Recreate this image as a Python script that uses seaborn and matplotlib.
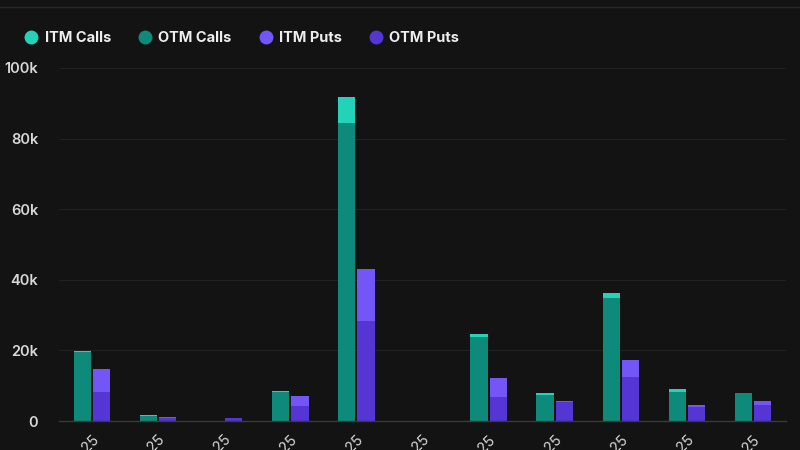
import matplotlib
matplotlib.use("Agg")
import matplotlib.pyplot as plt
import seaborn as sns
import pandas as pd
from matplotlib.lines import Line2D

expiries = ["14-Mar-25", "15-Mar-25", "16-Mar-25", "21-Mar-25", "28-Mar-25", "4-Apr-25",
            "25-Apr-25", "30-May-25", "27-Jun-25", "26-Sep-25", "26-Dec-25"]
itm_calls = [400, 200, 0, 200, 7500, 0, 900, 700, 1500, 900, 100]
otm_calls = [19500, 1500, 0, 8300, 84300, 0, 23700, 7300, 34800, 8200, 7900]
itm_puts = [6600, 100, 100, 2800, 14800, 0, 5600, 200, 4600, 300, 1300]
otm_puts = [8100, 900, 800, 4200, 28300, 0, 6700, 5500, 12600, 4100, 4400]

BG = "#131313"
C_ITM_CALL = "#22d3b8"
C_OTM_CALL = "#0e8a7a"
C_ITM_PUT = "#7456f8"
C_OTM_PUT = "#5535d4"

sns.set_theme(style="dark")
plt.rcParams["font.family"] = ["Inter", "DejaVu Sans"]

df_total = pd.DataFrame({
    "expiry": expiries * 2,
    "side": ["Calls"] * len(expiries) + ["Puts"] * len(expiries),
    "value": [a + b for a, b in zip(itm_calls, otm_calls)] + [a + b for a, b in zip(itm_puts, otm_puts)],
})
df_otm = pd.DataFrame({
    "expiry": expiries * 2,
    "side": ["Calls"] * len(expiries) + ["Puts"] * len(expiries),
    "value": otm_calls + otm_puts,
})

fig = plt.figure(figsize=(8, 4.5), dpi=100, facecolor=BG)
ax = fig.add_axes([0.07375, 0.0644, 0.90875, 0.7846])
ax.set_facecolor(BG)

sns.barplot(data=df_total, x="expiry", y="value", hue="side", ax=ax,
            palette={"Calls": C_ITM_CALL, "Puts": C_ITM_PUT},
            width=0.58, gap=0.1, saturation=1, legend=False, linewidth=0)
sns.barplot(data=df_otm, x="expiry", y="value", hue="side", ax=ax,
            palette={"Calls": C_OTM_CALL, "Puts": C_OTM_PUT},
            width=0.58, gap=0.1, saturation=1, legend=False, linewidth=0)

ax.set_ylim(0, 100000)
ax.set_xlim(-0.5, len(expiries) - 0.5)
ax.set_yticks([0, 20000, 40000, 60000, 80000, 100000])
ax.set_yticklabels(["0", "20k", "40k", "60k", "80k", "100k"])
ax.yaxis.grid(True, color="#222222", linewidth=0.8)
ax.xaxis.grid(False)
ax.set_axisbelow(True)
for s in ["top", "right", "left"]:
    ax.spines[s].set_visible(False)
ax.spines["bottom"].set_color("#3a3a3a")
ax.spines["bottom"].set_linewidth(1)
ax.set_xlabel("")
ax.set_ylabel("")
ax.tick_params(axis="y", colors="#d8d8d8", labelsize=10.5, length=0, pad=15)
ax.tick_params(axis="x", colors="#d8d8d8", labelsize=10.5, length=0, pad=8)
for lab in ax.get_yticklabels():
    lab.set_fontweight("semibold")
for lab in ax.get_xticklabels():
    lab.set_rotation(45)
    lab.set_ha("right")
    lab.set_va("top")
    lab.set_rotation_mode("anchor")

# top separator line
fig.add_artist(Line2D([0, 1], [1 - 7 / 450, 1 - 7 / 450], color="#2a2a2a", linewidth=1))

handles = [Line2D([0], [0], marker="o", linestyle="", markersize=10, markerfacecolor=c, markeredgewidth=0)
           for c in [C_ITM_CALL, C_OTM_CALL, C_ITM_PUT, C_OTM_PUT]]
leg = fig.legend(handles, ["ITM Calls", "OTM Calls", "ITM Puts", "OTM Puts"],
                 loc="center left", bbox_to_anchor=(0.012, 1 - 38 / 450), ncol=4, frameon=False,
                 handletextpad=0.3, columnspacing=1.75, handlelength=1.2,
                 prop={"size": 10.5, "weight": "bold"})
for t in leg.get_texts():
    t.set_color("#eeeeee")

fig.savefig("out.png", dpi=100, facecolor=BG)
